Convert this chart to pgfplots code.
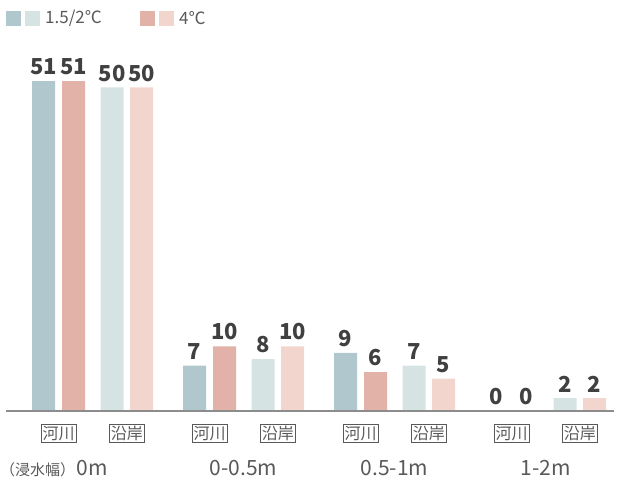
\documentclass[border=0pt]{standalone}
\usepackage{fontspec}
\setmainfont{Noto Sans CJK JP}
\usepackage{pgfplots}
\pgfplotsset{compat=1.18}
\definecolor{rA}{HTML}{B0C8CD}
\definecolor{rB}{HTML}{E2B1A7}
\definecolor{cA}{HTML}{D5E3E3}
\definecolor{cB}{HTML}{F2D5CD}
\definecolor{txt}{HTML}{404040}
\definecolor{lab}{HTML}{595959}
\begin{document}
\begin{tikzpicture}[x=1pt,y=1pt]
\path[use as bounding box] (0,-66) rectangle (627,411);
\begin{axis}[at={(0,0)}, anchor=south west, scale only axis,
  width=627pt, height=411pt, xmin=0, xmax=627, ymin=0, ymax=63.52,
  axis lines=none, clip=false, ybar, bar width=23, bar shift=0pt,
  /pgf/number format/assume math mode=true,
  nodes near coords,
  every node near coord/.append style={font=\fontsize{22}{22}\selectfont\bfseries, text=txt, yshift=2.5pt}]
\addplot[fill=rA, draw=none] coordinates {(43.5,51) (194.5,7) (345.5,9) (496.5,0)};
\addplot[fill=rB, draw=none] coordinates {(73.5,51) (224.5,10) (375.5,6) (526.5,0)};
\addplot[fill=cA, draw=none] coordinates {(112,50) (263,8) (414,7) (565,2)};
\addplot[fill=cB, draw=none] coordinates {(141.5,50) (292.5,10) (443.5,5) (594.5,2)};
\draw[color=black!45, line width=1.2pt] (axis cs:6,0) -- (axis cs:614,0);
\end{axis}
\foreach \g/\lbl in {0/0m,1/0-0.5m,2/0.5-1m,3/1-2m}{
  \pgfmathsetmacro{\xr}{58.5+151*\g}
  \pgfmathsetmacro{\xc}{126.8+151*\g}
  \pgfmathsetmacro{\xg}{92.5+151*\g}
  \node[draw=lab, line width=0.8pt, inner sep=1.6pt, font=\fontsize{16}{16}\selectfont, text=lab] at (\xr,-22.5) {河川};
  \node[draw=lab, line width=0.8pt, inner sep=1.6pt, font=\fontsize{16}{16}\selectfont, text=lab] at (\xc,-22.5) {沿岸};
  \node[anchor=base, inner sep=0pt, font=\fontsize{21}{21}\selectfont, text=lab] at (\xg,-64) {\lbl};
}
\node[anchor=base west, inner sep=0pt, font=\fontsize{15}{15}\selectfont, text=lab] at (0,-64) {（浸水幅）};
\fill[rA] (6,385) rectangle (21,400);
\fill[cA] (25,385) rectangle (40,400);
\node[anchor=west, inner sep=0pt, font=\fontsize{17}{17}\selectfont, text=lab] at (45,392.5) {1.5/2℃};
\fill[rB] (140,385) rectangle (155,400);
\fill[cB] (159,385) rectangle (174,400);
\node[anchor=west, inner sep=0pt, font=\fontsize{17}{17}\selectfont, text=lab] at (179,392.5) {4℃};
\end{tikzpicture}
\end{document}
